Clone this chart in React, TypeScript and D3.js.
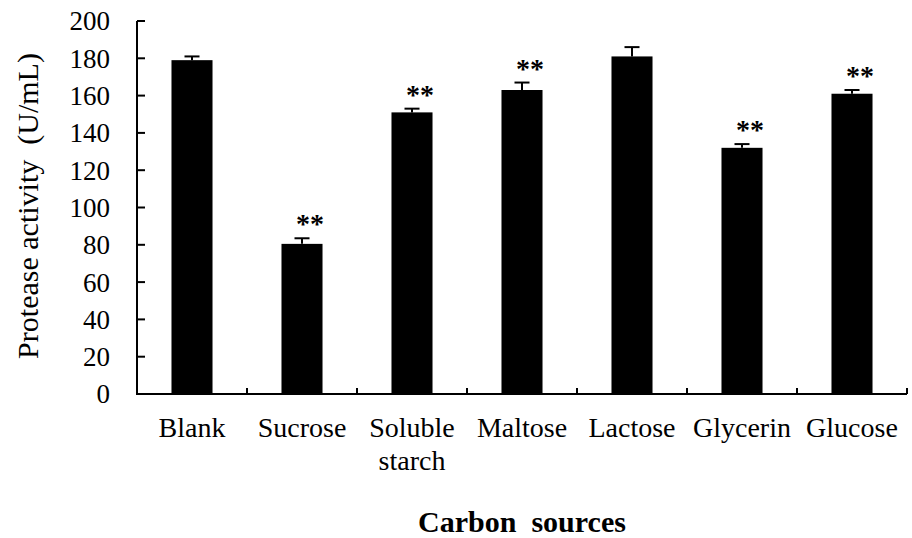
import React from "react";
import * as d3 from "d3";

const categories = ["Blank", "Sucrose", "Soluble starch", "Maltose", "Lactose", "Glycerin", "Glucose"];
const values = [179, 80.5, 151, 163, 181, 132, 161];
const errors = [2, 3, 2, 4, 5, 2, 2];
const significance = ["", "**", "**", "**", "", "**", "**"];
const yTicks = [0, 20, 40, 60, 80, 100, 120, 140, 160, 180, 200];

const W = 912;
const H = 538;
const margin = { left: 137, right: 5, top: 21, bottom: 144 };
const FONT = "'Liberation Serif', 'Times New Roman', serif";

export default function App() {
  const x = d3
    .scaleBand<string>()
    .domain(categories)
    .range([margin.left, W - margin.right])
    .paddingInner(0.627)
    .paddingOuter(0.3135);
  const y = d3.scaleLinear().domain([0, 200]).range([H - margin.bottom, margin.top]);
  const step = x.step();
  const y0 = y(0);
  const x0 = margin.left;
  const x1 = W - margin.right;

  return (
    <svg
      width={W}
      height={H}
      style={{ position: "absolute", left: 0, top: 0, background: "#fff" }}
      fontFamily={FONT}
    >
      {/* bars */}
      {categories.map((c, i) => {
        const bx = x(c)!;
        const cx = bx + x.bandwidth() / 2;
        const top = y(values[i]);
        const et = y(values[i] + errors[i]);
        return (
          <g key={c}>
            <rect x={bx} y={top} width={x.bandwidth()} height={y0 - top} fill="#000" />
            <line x1={cx} x2={cx} y1={top} y2={et} stroke="#000" strokeWidth={2} />
            <line x1={cx - 7.5} x2={cx + 7.5} y1={et} y2={et} stroke="#000" strokeWidth={2} />
            {significance[i] && (
              <text
                x={cx + 8}
                y={et - 18 + 13}
                textAnchor="middle"
                fontSize={28}
                fontWeight="bold"
                fill="#000"
              >
                {significance[i]}
              </text>
            )}
          </g>
        );
      })}

      {/* y axis */}
      <line x1={x0} x2={x0} y1={y(200)} y2={y0} stroke="#000" strokeWidth={2} />
      {yTicks.map((t) => (
        <g key={t}>
          <line x1={x0} x2={x0 + 8} y1={y(t)} y2={y(t)} stroke="#000" strokeWidth={2} />
          <text x={110} y={y(t)} dy="0.35em" textAnchor="end" fontSize={27} fill="#000">
            {t}
          </text>
        </g>
      ))}

      {/* x axis */}
      <line x1={x0 - 1} x2={x1} y1={y0} y2={y0} stroke="#000" strokeWidth={2} />
      {categories.map((c, i) => {
        const bx = x0 + step * (i + 1);
        return <line key={"t" + c} x1={bx} x2={bx} y1={y0} y2={y0 - 6} stroke="#000" strokeWidth={2} />;
      })}
      {categories.map((c) => {
        const cx = x(c)! + x.bandwidth() / 2;
        const words = c === "Soluble starch" ? ["Soluble", "starch"] : [c];
        return (
          <text key={"l" + c} x={cx} y={437} textAnchor="middle" fontSize={28} fill="#000">
            {words.map((w, k) => (
              <tspan key={k} x={cx} dy={k === 0 ? 0 : 33}>
                {w}
              </tspan>
            ))}
          </text>
        );
      })}

      {/* axis titles */}
      <text
        transform={`translate(38, 206) rotate(-90)`}
        textAnchor="middle"
        fontSize={30}
        fill="#000"
        style={{ whiteSpace: "pre" }}
      >
        {"Protease activity  (U/mL)"}
      </text>
      <text x={(x0 + x1) / 2} y={532} textAnchor="middle" fontSize={30} fontWeight="bold" fill="#000" style={{ whiteSpace: "pre" }}>
        {"Carbon  sources"}
      </text>
    </svg>
  );
}
